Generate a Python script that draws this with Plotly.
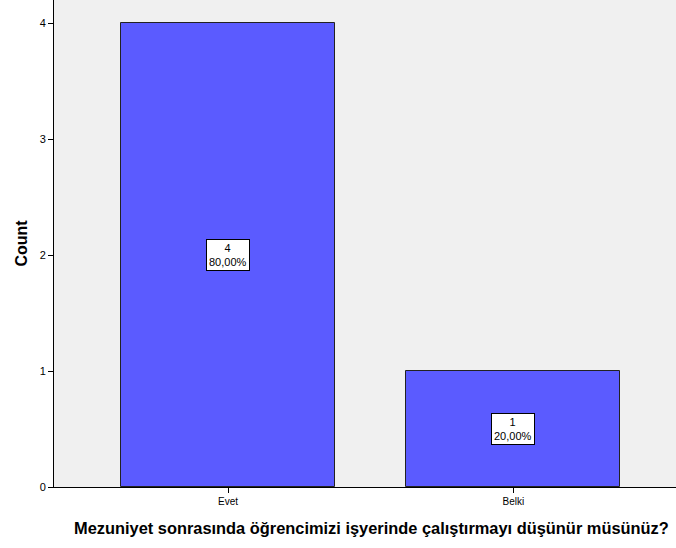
import plotly.graph_objects as go

categories = ["Evet", "Belki"]
counts = [4, 1]
percents = ["80,00%", "20,00%"]
y_ticks = [0, 1, 2, 3, 4]
x_title = "Mezuniyet sonrasında öğrencimizi işyerinde çalıştırmayı düşünür müsünüz?"
y_title = "Count"

fig = go.Figure()
fig.add_trace(go.Bar(
    x=categories, y=counts, width=0.75,
    marker=dict(color="#5B5BFF", line=dict(color="#222222", width=1)),
    hoverinfo="skip",
))

for c, v, p in zip(categories, counts, percents):
    fig.add_annotation(
        x=c, y=v / 2, xref="x", yref="y",
        text=f"{v}<br>{p}", showarrow=False,
        bgcolor="white", bordercolor="black", borderwidth=1, borderpad=2,
        font=dict(family="Liberation Sans, Arial", size=11, color="black"),
        align="center",
    )

# x axis title (slightly right of centre, as in the reference)
fig.add_annotation(
    x=0.5105, y=-0.0845, xref="paper", yref="paper",
    xanchor="center", yanchor="middle", showarrow=False,
    text=f"<b>{x_title}</b>",
    font=dict(family="Liberation Sans, Arial", size=16.4, color="black"),
)

fig.update_layout(
    width=676, height=548,
    margin=dict(l=54, r=0, t=0, b=61, pad=0, autoexpand=False),
    paper_bgcolor="white", plot_bgcolor="#F0F0F0",
    showlegend=False,
    font=dict(family="Liberation Sans, Arial", color="black"),
    bargap=0,
)
fig.update_xaxes(
    range=[-0.61, 1.57], showgrid=False, zeroline=False, automargin=False,
    showline=True, linecolor="black", linewidth=1,
    ticks="outside", ticklen=5, tickcolor="black",
    tickfont=dict(size=10),
)
fig.update_yaxes(
    range=[0, 4.2], tickvals=y_ticks, showgrid=False, zeroline=False, automargin=False,
    showline=True, linecolor="black", linewidth=1,
    ticks="outside", ticklen=5, tickcolor="black",
    tickfont=dict(size=11),
    title=dict(text=f"<b>{y_title}</b>", font=dict(size=16), standoff=8),
)

fig.write_html("out.html",
               config={"displayModeBar": False},
               post_script="document.body.style.margin='0';document.body.style.overflow='hidden';")
